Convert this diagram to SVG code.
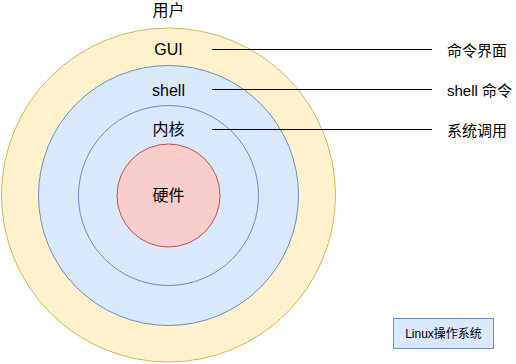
<svg xmlns="http://www.w3.org/2000/svg" width="516" height="364" viewBox="0 0 516 364">
  <style>
    text { font-family: "Liberation Sans", "Noto Sans CJK SC", sans-serif; fill: #000; }
    .c { text-anchor: middle; font-size: 16px; }
    .r { text-anchor: start; font-size: 15px; }
    .yellow { fill: #fff2cc; stroke: #d6b656; stroke-width: 1; }
    .blue { fill: #dae8fc; stroke: #6c8ebf; stroke-width: 1; }
    .red { fill: #f8cecc; stroke: #b85450; stroke-width: 1; }
    .conn { stroke: #000; stroke-width: 1; fill: none; }
  </style>
  <rect width="516" height="364" fill="#ffffff"/>
  <g id="user-label">
    <text class="c" x="168.5" y="16">用户</text>
  </g>
  <g id="gui">
    <circle class="yellow" cx="168.5" cy="195" r="167"/>
    <text class="c" x="168.5" y="55">GUI</text>
  </g>
  <g id="shell">
    <circle class="blue" cx="168.5" cy="195.5" r="130"/>
    <text class="c" x="168.5" y="95.5">shell</text>
  </g>
  <g id="kernel">
    <circle class="blue" cx="168.5" cy="195.5" r="90"/>
    <text class="c" x="168.5" y="134.5">内核</text>
  </g>
  <g id="hardware">
    <circle class="red" cx="168.5" cy="195.5" r="51.5"/>
    <text class="c" x="168.5" y="201">硬件</text>
  </g>
  <g id="connectors">
    <line class="conn" x1="212" y1="49.5" x2="432" y2="49.5"/>
    <line class="conn" x1="212" y1="89.5" x2="432" y2="89.5"/>
    <line class="conn" x1="212" y1="129.5" x2="432" y2="129.5"/>
  </g>
  <g id="label-gui">
    <text class="r" x="447" y="56">命令界面</text>
  </g>
  <g id="label-shell">
    <text class="r" x="447" y="96">shell 命令</text>
  </g>
  <g id="label-syscall">
    <text class="r" x="447" y="136">系统调用</text>
  </g>
  <g id="legend">
    <rect class="blue" x="393.5" y="318.5" width="100" height="30"/>
    <text x="443.5" y="338" text-anchor="middle" font-size="12">Linux操作系统</text>
  </g>
</svg>
